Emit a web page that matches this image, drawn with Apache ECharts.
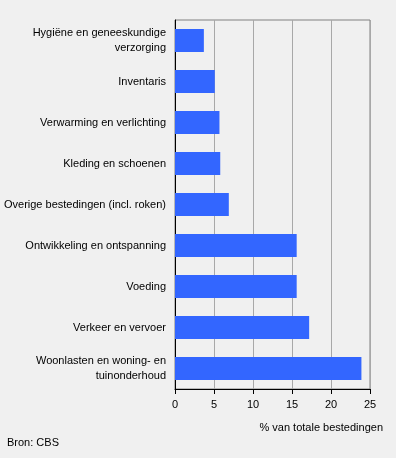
<!DOCTYPE html>
<html><head><meta charset="utf-8">
<script src="https://cdn.jsdelivr.net/npm/echarts@6/dist/echarts.min.js"></script>
<style>html,body{margin:0;padding:0;background:#f0f0f0}#c{width:396px;height:458px}</style>
</head><body><div id="c"></div>
<script>
const categories = [
  "Hygiëne en geneeskundige\nverzorging",
  "Inventaris",
  "Verwarming en verlichting",
  "Kleding en schoenen",
  "Overige bestedingen (incl. roken)",
  "Ontwikkeling en ontspanning",
  "Voeding",
  "Verkeer en vervoer",
  "Woonlasten en woning- en\ntuinonderhoud"
];
const values = [3.7, 5.1, 5.7, 5.8, 6.9, 15.6, 15.6, 17.2, 23.9];
const xTicks = [0, 5, 10, 15, 20, 25];
const axisTitle = "% van totale bestedingen";
const source = "Bron: CBS";

const font = "'Liberation Sans', Arial, sans-serif";
const chart = echarts.init(document.getElementById('c'), null, {renderer: 'canvas'});
chart.setOption({
  backgroundColor: '#f0f0f0',
  animation: false,
  textStyle: {fontFamily: font},
  grid: {left: 175, right: 26, top: 20, bottom: 69, show: true, borderColor: '#808080', borderWidth: 1, backgroundColor: 'transparent'},
  xAxis: {
    type: 'value', min: xTicks[0], max: xTicks[xTicks.length - 1], interval: 5,
    axisLine: {show: true, onZero: false, lineStyle: {color: '#000', width: 1}},
    axisTick: {show: true, length: 5, lineStyle: {color: '#000'}},
    axisLabel: {color: '#000', fontSize: 11, fontFamily: font, margin: 10},
    splitLine: {show: true, lineStyle: {color: '#a8a8a8', width: 1}}
  },
  yAxis: {
    type: 'category', data: categories, inverse: true,
    axisLine: {show: true, lineStyle: {color: '#000', width: 1}},
    axisTick: {show: false},
    axisLabel: {color: '#000', fontSize: 11, fontFamily: font, margin: 9, lineHeight: 15, align: 'right'},
    splitLine: {show: false}
  },
  series: [{
    type: 'bar', data: values, barCategoryGap: '44%',
    itemStyle: {color: '#3366ff'}
  }],
  graphic: [
    {type: 'text', right: 13, top: 422, style: {text: axisTitle, fill: '#000', font: '11px ' + font}},
    {type: 'text', left: 7, top: 437, style: {text: source, fill: '#000', font: '11px ' + font}}
  ]
});
</script></body></html>
